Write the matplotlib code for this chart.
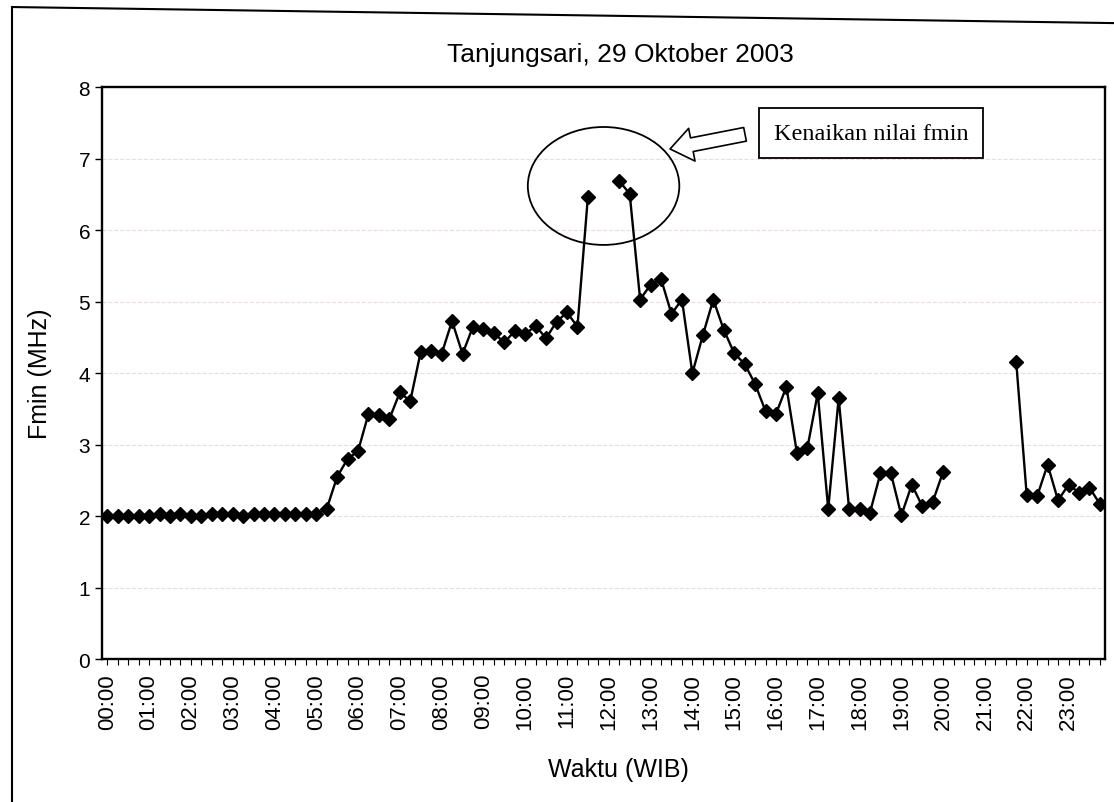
import numpy as np
import matplotlib.pyplot as plt
from matplotlib.patches import Ellipse, FancyArrowPatch
from matplotlib.lines import Line2D

plt.rcParams['font.family'] = ['Liberation Sans', 'DejaVu Sans']

# waktu tiap 15 menit (96 kategori)
waktu = ['%02d:%02d' % (j, m) for j in range(24) for m in (0, 15, 30, 45)]

nan = np.nan
fmin = [
    2.00, 2.00, 2.00, 2.00, 2.00, 2.03, 2.00, 2.03,   # 00:00 - 01:45
    2.00, 2.00, 2.03, 2.03, 2.03, 2.00, 2.03, 2.03,   # 02:00 - 03:45
    2.03, 2.03, 2.03, 2.03, 2.03, 2.10, 2.55, 2.80,   # 04:00 - 05:45
    2.91, 3.43, 3.41, 3.36, 3.73, 3.61, 4.30, 4.31,   # 06:00 - 07:45
    4.27, 4.73, 4.27, 4.65, 4.62, 4.56, 4.43, 4.59,   # 08:00 - 09:45
    4.55, 4.66, 4.49, 4.72, 4.85, 4.65, 6.47, nan,    # 10:00 - 11:45
    nan, 6.69, 6.51, 5.03, 5.24, 5.32, 4.83, 5.03,    # 12:00 - 13:45
    4.00, 4.53, 5.03, 4.61, 4.28, 4.13, 3.85, 3.47,   # 14:00 - 15:45
    3.43, 3.81, 2.89, 2.95, 3.72, 2.10, 3.65, 2.10,   # 16:00 - 17:45
    2.10, 2.05, 2.60, 2.60, 2.01, 2.44, 2.14, 2.20,   # 18:00 - 19:45
    2.62, nan, nan, nan, nan, nan, nan, 4.15,         # 20:00 - 21:45
    2.29, 2.28, 2.72, 2.22, 2.44, 2.33, 2.40, 2.17,   # 22:00 - 23:45
]

fig = plt.figure(figsize=(11.14, 8.03), dpi=100)
ax = fig.add_axes([0.0916, 0.178, 0.9004, 0.712])

x = np.arange(len(waktu))
ax.plot(x, fmin, color='black', lw=1.7, marker='D', markersize=7.5,
        markerfacecolor='black', markeredgecolor='black')

ax.set_xlim(-0.5, len(waktu) - 0.5)
ax.set_ylim(0, 8)
ax.set_yticks(range(0, 9))
ax.set_xticks(x[::4])
ax.set_xticklabels(waktu[::4], rotation=90, fontsize=16)
ax.set_xticks(x, minor=True)
ax.tick_params(axis='x', which='minor', length=4, width=0.8, direction='out')
ax.tick_params(axis='x', which='major', length=4, width=0.8, direction='out', pad=6)
ax.tick_params(axis='y', labelsize=15, length=5, width=1, direction='out')

ax.grid(axis='y', color='#ecdcdc', linestyle='--', lw=0.8)
ax.set_axisbelow(True)
for s in ax.spines.values():
    s.set_linewidth(1.7)
    s.set_color('black')

ax.set_xlabel('Waktu (WIB)', fontsize=18)
ax.xaxis.set_label_coords(0.515, -0.172)
ax.set_ylabel('Fmin (MHz)', fontsize=18)
ax.yaxis.set_label_coords(-0.05, 0.5)

fig.text(0.557, 0.932, 'Tanjungsari, 29 Oktober 2003', ha='center', va='center',
         fontsize=19)

# lingkaran penanda
ax.add_patch(Ellipse((47.5, 6.62), 14.5, 1.65, fill=False, ec='black', lw=1.3))

# panah blok kosong
panah = FancyArrowPatch((61.3, 7.35), (53.6, 7.13),
                        arrowstyle='simple,head_length=0.8,head_width=1.2,tail_width=0.5',
                        mutation_scale=20, fc='white', ec='black', lw=1.2)
ax.add_patch(panah)

ax.text(73.1, 7.36, 'Kenaikan nilai fmin', ha='center', va='center',
        fontsize=17.5, family=['Liberation Serif', 'DejaVu Serif'],
        bbox=dict(boxstyle='square,pad=0.6', fc='white', ec='black', lw=1.3))

# bingkai luar
fig.add_artist(Line2D([0.011, 0.011], [0.0, 0.99], transform=fig.transFigure,
                      color='black', lw=1.5))
fig.add_artist(Line2D([0.011, 1.0], [0.99, 0.97], transform=fig.transFigure,
                      color='black', lw=1.5))

fig.savefig('out.png', dpi=100)
